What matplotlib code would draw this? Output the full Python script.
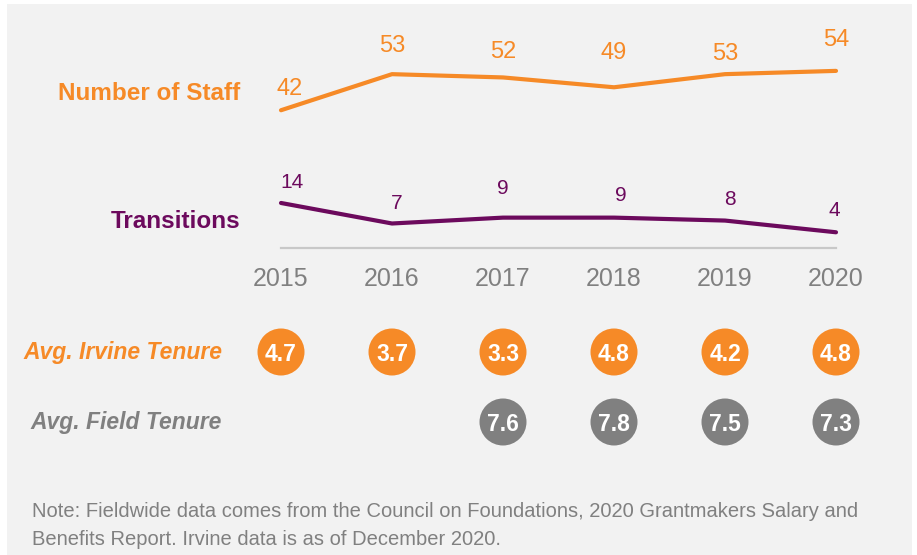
import matplotlib
matplotlib.use("Agg")
import matplotlib.pyplot as plt
from matplotlib.patches import Rectangle
import matplotlib.transforms as mtransforms

# ---------------- data ----------------
years = ["2015", "2016", "2017", "2018", "2019", "2020"]
staff = [42, 53, 52, 49, 53, 54]
transitions = [14, 7, 9, 9, 8, 4]
irvine_tenure = [4.7, 3.7, 3.3, 4.8, 4.2, 4.8]
field_tenure = [None, None, 7.6, 7.8, 7.5, 7.3]
note_lines = [
    "Note: Fieldwide data comes from the Council on Foundations, 2020 Grantmakers Salary and",
    "Benefits Report. Irvine data is as of December 2020.",
]

# label offsets in pixels (layout only)
staff_lbl_dx = [9, 0, 0, 0, 0, 0]
staff_lbl_dy = [21, 28, 25, 34, 20, 31]
trans_lbl_dx = [11, 5, 0, 7, 5, -2]
trans_lbl_dy = [20, 20, 29, 22, 21, 22]

ORANGE = "#F68A27"
PURPLE = "#6C0A5D"
GRAY = "#808080"
BG = "#F2F2F2"

W, H = 917, 555
DPI = 100
fig = plt.figure(figsize=(W / DPI, H / DPI), dpi=DPI)
fig.patch.set_facecolor("white")
fig.patches.append(Rectangle((7 / W, 0), 905 / W, (H - 4) / H, transform=fig.transFigure,
                             facecolor=BG, edgecolor="none", zorder=-10))

FONT = "Liberation Sans"
plt.rcParams["font.family"] = [FONT, "DejaVu Sans"]

PX = 72.0 / DPI  # points per pixel

# ---------------- line chart ----------------
x_left, x_right = 281, 836
y_top, y_bot = 30, 248
ax = fig.add_axes([x_left / W, (H - y_bot) / H, (x_right - x_left) / W, (y_bot - y_top) / H])
ax.set_facecolor("none")
xs = list(range(len(years)))
ax.set_xlim(0, len(years) - 1)
ax.set_ylim(0, (y_bot - y_top) / 3.28)
for s in ["top", "left", "right"]:
    ax.spines[s].set_visible(False)
ax.spines["bottom"].set_color("#C8C8C8")
ax.spines["bottom"].set_linewidth(1.6)
ax.set_yticks([])
ax.set_xticks(xs)
ax.set_xticklabels(years, fontsize=18, color=GRAY)
ax.tick_params(axis="x", length=0, pad=14)

ax.plot(xs, staff, color=ORANGE, lw=3.0, solid_capstyle="round", solid_joinstyle="round", clip_on=False)
for x, v, dx, dy in zip(xs, staff, staff_lbl_dx, staff_lbl_dy):
    ax.annotate(str(v), (x, v), xytext=(dx * PX, dy * PX), textcoords="offset points",
                ha="center", va="center", fontsize=17, color=ORANGE, annotation_clip=False)

ax2 = fig.add_axes(ax.get_position())
ax2.set_facecolor("none")
ax2.set_xlim(0, len(years) - 1)
ax2.set_ylim(-(248 - 244) / 2.93, (244 - y_top) / 2.93)
ax2.axis("off")
ax2.plot(xs, transitions, color=PURPLE, lw=3.0, solid_capstyle="round", solid_joinstyle="round", clip_on=False)
for x, v, dx, dy in zip(xs, transitions, trans_lbl_dx, trans_lbl_dy):
    ax2.annotate(str(v), (x, v), xytext=(dx * PX, dy * PX), textcoords="offset points",
                 ha="center", va="center", fontsize=15, color=PURPLE, annotation_clip=False)

# series labels
fig.text(240 / W, 1 - 94 / H, "Number of Staff", ha="right", va="center",
         fontsize=17.5, fontweight="bold", color=ORANGE)
fig.text(240 / W, 1 - 222 / H, "Transitions", ha="right", va="center",
         fontsize=17.5, fontweight="bold", color=PURPLE)

# ---------------- tenure circles ----------------
t_top, t_bot = 317, 457
axc = fig.add_axes([x_left / W, (H - t_bot) / H, (x_right - x_left) / W, (t_bot - t_top) / H])
axc.set_facecolor("none")
axc.axis("off")
axc.set_xlim(0, len(years) - 1)
axc.set_ylim(-0.5, 1.5)
diam_pt = 47 * PX
rows = [(1, irvine_tenure, ORANGE), (0, field_tenure, GRAY)]
for row_y, vals, col in rows:
    px_ = [x for x, v in zip(xs, vals) if v is not None]
    pv = [v for v in vals if v is not None]
    axc.scatter(px_, [row_y] * len(px_), s=diam_pt ** 2, color=col, edgecolors="none", clip_on=False)
    for x, v in zip(px_, pv):
        axc.text(x, row_y, f"{v:.1f}", ha="center", va="center_baseline", fontsize=16.5,
                 fontweight="bold", color="white")

blend = mtransforms.blended_transform_factory(fig.transFigure, axc.transData)
axc.text(222 / W, 1, "Avg. Irvine Tenure", transform=blend, ha="right", va="center",
         fontsize=16.5, fontweight="bold", fontstyle="italic", color=ORANGE)
axc.text(222 / W, 0, "Avg. Field Tenure", transform=blend, ha="right", va="center",
         fontsize=16.5, fontweight="bold", fontstyle="italic", color=GRAY)

# ---------------- note ----------------
for i, line in enumerate(note_lines):
    fig.text(32 / W, 1 - (517 + 28 * i) / H, line, ha="left", va="baseline",
             fontsize=14.5, color=GRAY)

fig.savefig("out.png", dpi=DPI, facecolor=fig.get_facecolor())
